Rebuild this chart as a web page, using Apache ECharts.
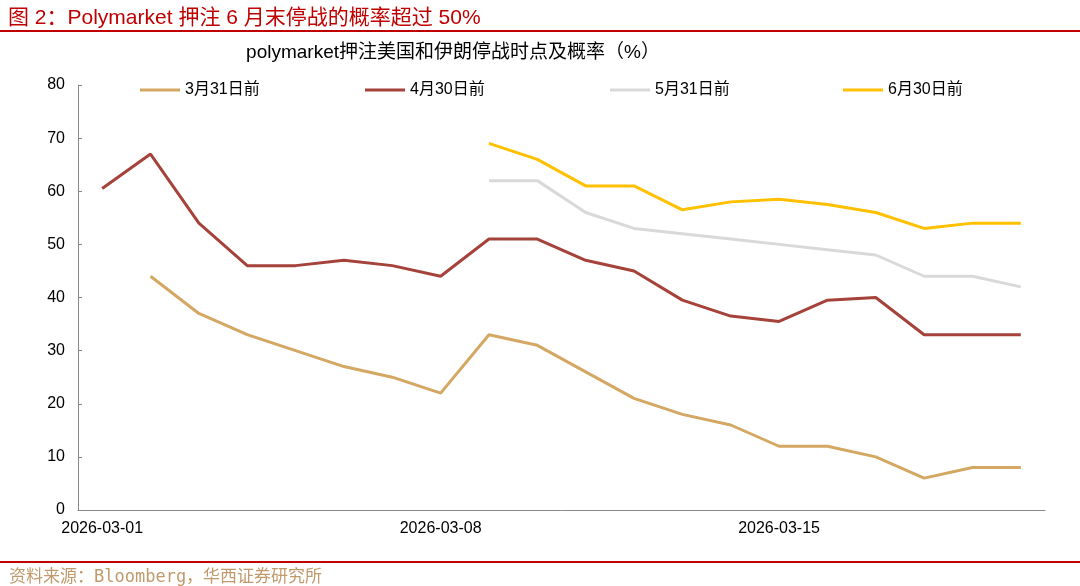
<!DOCTYPE html>
<html><head><meta charset="utf-8">
<script src="https://cdn.jsdelivr.net/npm/echarts@6/dist/echarts.min.js"></script>
<style>html,body{margin:0;padding:0;background:#fff}#c{width:1080px;height:586px}</style>
</head><body><div id="c"></div>
<script>
const categories = ['2026-03-01','2026-03-02','2026-03-03','2026-03-04','2026-03-05','2026-03-06','2026-03-07','2026-03-08','2026-03-09','2026-03-10','2026-03-11','2026-03-12','2026-03-13','2026-03-14','2026-03-15','2026-03-16','2026-03-17','2026-03-18','2026-03-19','2026-03-20'];
const seriesNames = ['3月31日前','4月30日前','5月31日前','6月30日前'];
const mar31 = [null,44,37,33,30,27,25,22,33,31,26,21,18,16,12,12,10,6,8,8];
const apr30 = [60.5,67,54,46,46,47,46,44,51,51,47,45,39.5,36.5,35.5,39.5,40,33,33,33];
const may31 = [null,null,null,null,null,null,null,null,62,62,56,53,52,51,50,49,48,44,44,42];
const jun30 = [null,null,null,null,null,null,null,null,69,66,61,61,56.5,58,58.5,57.5,56,53,54,54];
const yTicks = {min:0,max:80,interval:10};
const colors = ['#D4A762','#A5423A','#D9D9D9','#FFC000'];
const dataSets = [mar31,apr30,may31,jun30];

const chart = echarts.init(document.getElementById('c'));
const legendLeft = [135,360,605,838];
chart.setOption({
  animation:false,
  title:[{
    text:'图 2：Polymarket 押注 6 月末停战的概率超过 50%',
    left:3, top:3,
    textStyle:{color:'#C00000',fontSize:21,fontWeight:'normal',fontFamily:"'Liberation Sans','Noto Sans CJK SC'"}
  },{
    text:'polymarket押注美国和伊朗停战时点及概率（%）',
    left:448, top:38, textAlign:'center',
    textStyle:{color:'#000',fontSize:19,fontWeight:'normal',fontFamily:"'Liberation Sans','Noto Sans CJK SC'"}
  },{
    text:'资料来源：Bloomberg，华西证券研究所',
    left:4, top:564,
    textStyle:{color:'#C09A6B',fontSize:17,fontWeight:'normal',fontFamily:"'DejaVu Sans Mono','Noto Sans CJK SC'"}
  }],
  graphic:[
    {type:'rect',shape:{x:0,y:30,width:1080,height:2},style:{fill:'#C00000'}},
    {type:'rect',shape:{x:0,y:561,width:1080,height:2},style:{fill:'#C00000'}}
  ],
  legend: seriesNames.map((n,i)=>({
    data:[n], left:legendLeft[i], top:77, icon:'rect', itemWidth:40, itemHeight:3,
    itemGap:6, textStyle:{color:'#000',fontSize:16,fontFamily:"'Liberation Sans','Noto Sans CJK SC'"}
  })),
  grid:{left:78,right:35,top:85,bottom:76},
  xAxis:{
    type:'category', data:categories, boundaryGap:true,
    axisLine:{lineStyle:{color:'#888',width:1}},
    axisTick:{inside:true,length:5,interval:6,lineStyle:{color:'#888'}},
    axisLabel:{interval:6,color:'#000',fontSize:16,margin:11,fontFamily:'Liberation Sans'}
  },
  yAxis:{
    type:'value', min:yTicks.min, max:yTicks.max, interval:yTicks.interval,
    axisLine:{show:true,lineStyle:{color:'#888',width:1}},
    axisTick:{show:true,inside:true,length:4,lineStyle:{color:'#888'}},
    splitLine:{show:false},
    axisLabel:{color:'#000',fontSize:16,margin:13,fontFamily:'Liberation Sans'}
  },
  series: seriesNames.map((n,i)=>({
    name:n, type:'line', data:dataSets[i], symbol:'none', connectNulls:false,
    lineStyle:{color:colors[i],width:3}, itemStyle:{color:colors[i]}
  }))
});
</script></body></html>
